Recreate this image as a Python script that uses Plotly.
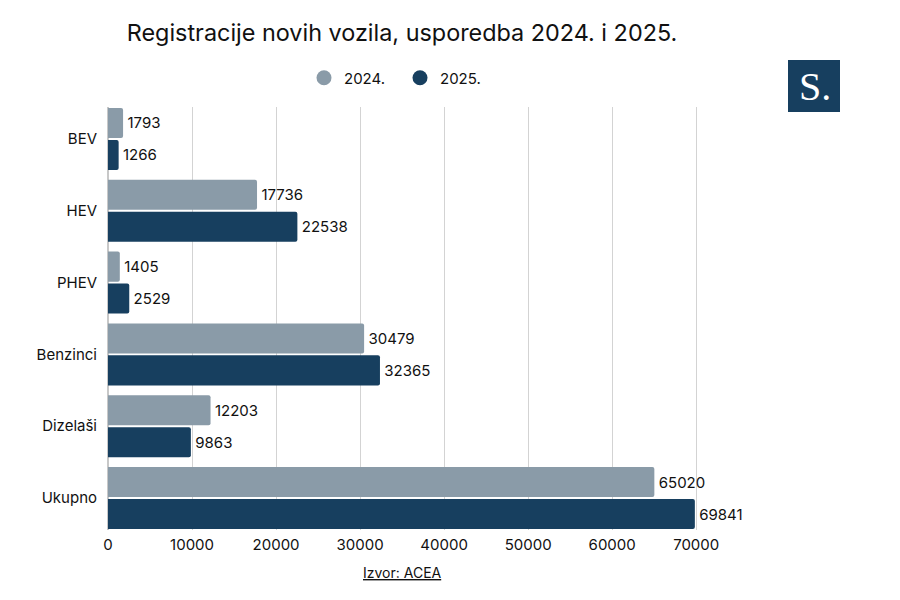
import plotly.graph_objects as go

categories = ["BEV", "HEV", "PHEV", "Benzinci", "Dizelaši", "Ukupno"]
values_2024 = [1793, 17736, 1405, 30479, 12203, 65020]
values_2025 = [1266, 22538, 2529, 32365, 9863, 69841]
series_names = ["2024.", "2025."]
colors = ["#8a9ba8", "#173f5f"]
tick_vals = [0, 10000, 20000, 30000, 40000, 50000, 60000, 70000]

OFF = 8  # page body offset
L, T = 108 - OFF, 107 - OFF
B = 600 - (530 - OFF)
W = 605
R = 900 - L - W
H = 600 - T - B
FONT = "Inter"
GAP = 0.111

fig = go.Figure()
for name, vals, col in zip(series_names, [values_2024, values_2025], colors):
    fig.add_trace(go.Bar(
        y=categories, x=vals, name=name, orientation="h",
        marker=dict(color=col, line=dict(width=0)),
        text=[str(v) for v in vals], texttemplate="\u200a%{text}",
        textposition="outside",
        textfont=dict(size=15, color="#111", family=FONT),
        cliponaxis=False, showlegend=False,
    ))
    fig.add_trace(go.Scatter(
        x=[None], y=[None], mode="markers", name=name,
        marker=dict(symbol="circle", size=15, color=col),
    ))

def px_x(p):
    return (p - OFF - L) / W

def px_y(p):
    return 1 - (p - OFF - T) / H

n = len(categories)
fig.update_layout(
    width=900, height=600,
    margin=dict(l=L, r=R, t=T, b=B, autoexpand=False),
    paper_bgcolor="white", plot_bgcolor="white",
    barmode="group", bargap=GAP, bargroupgap=0.06, barcornerradius=2,
    font=dict(family=FONT, size=15, color="#111"),
    title=dict(text="Registracije novih vozila, usporedba 2024. i 2025.",
               x=(402 - OFF) / 900, xanchor="center", xref="container",
               y=1 - (33 - OFF) / 600, yanchor="middle", yref="container",
               font=dict(size=23.4, family=FONT, color="#111")),
    legend=dict(orientation="h", x=px_x(400), xanchor="center",
                y=px_y(78), yanchor="middle",
                font=dict(size=15, family=FONT), itemwidth=30,
                entrywidth=51, entrywidthmode="pixels",
                traceorder="normal"),
    xaxis=dict(range=[0, 72000], tickvals=tick_vals,
               ticktext=[str(v) for v in tick_vals],
               showgrid=True, gridcolor="#d3d3d3", gridwidth=1,
               zeroline=True, zerolinecolor="#c8c8c8",
               tickfont=dict(size=15), ticklabelstandoff=4,
               automargin=False, fixedrange=True),
    yaxis=dict(range=[n - 0.5 - GAP / 2, -0.5 + GAP / 2], showgrid=False,
               ticks="", ticklabelstandoff=10, tickfont=dict(size=15),
               automargin=False),
    shapes=[dict(type="rect", xref="paper", yref="paper",
                 x0=px_x(788), x1=px_x(840), y0=px_y(112), y1=px_y(60),
                 fillcolor="#173f5f", line=dict(width=0), layer="above")],
    annotations=[
        dict(text="S.", xref="paper", yref="paper", x=px_x(815), y=px_y(86),
             xanchor="center", yanchor="middle", showarrow=False,
             font=dict(size=40, color="white", family="Liberation Serif")),
        dict(text="<u>Izvor: ACEA</u>", xref="paper", yref="paper",
             x=px_x(402), y=px_y(572), xanchor="center", yanchor="middle",
             showarrow=False, font=dict(size=14, color="#111", family=FONT)),
    ],
)

fig.write_html("out.html")
